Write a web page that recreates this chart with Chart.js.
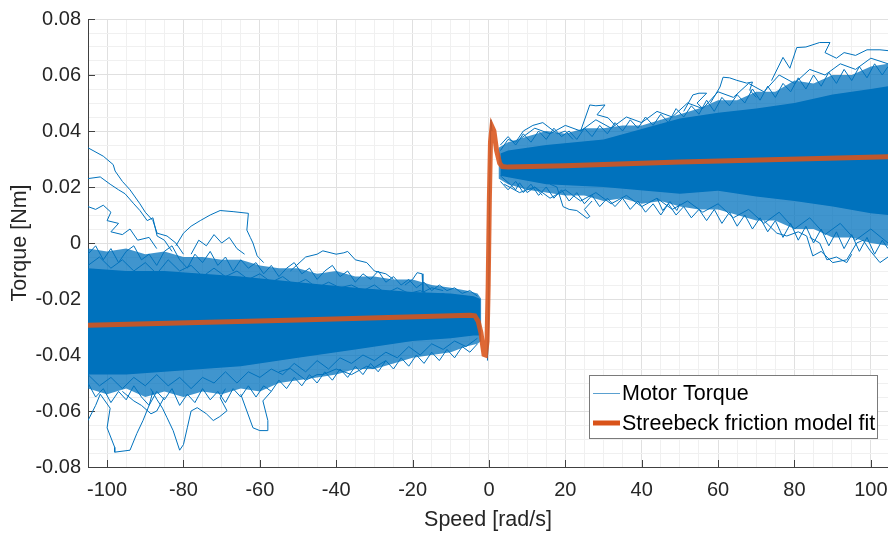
<!DOCTYPE html>
<html>
<head>
<meta charset="utf-8">
<script src="https://cdn.jsdelivr.net/npm/chart.js@4"></script>
<style>
  html, body { margin: 0; padding: 0; background: #fff; }
  #wrap { width: 888px; height: 537px; }
</style>
</head>
<body>
<div id="wrap"><canvas id="chart" width="888" height="537"></canvas></div>
<script>
// tick labels
const speedTicks = [-100, -80, -60, -40, -20, 0, 20, 40, 60, 80, 100];
const torqueTicks = [-0.08, -0.06, -0.04, -0.02, 0, 0.02, 0.04, 0.06, 0.08];

// dense part of the measured cloud, negative speeds
const negCoreSpeed = [-105, -95, -85, -75, -65, -50, -35, -20, -10, -4, -2.2];
const negCoreTop = [-0.009, -0.010, -0.010, -0.011, -0.012, -0.014, -0.016, -0.0175, -0.018, -0.019, -0.020];
const negCoreBottom = [-0.047, -0.047, -0.046, -0.045, -0.044, -0.041, -0.038, -0.035, -0.034, -0.033, -0.033];

// looser outer part of the cloud, negative speeds
const negEdgeSpeed = [-105, -100, -95, -90, -85, -80, -75, -70, -65, -60, -55, -50, -45, -40, -35, -30, -25, -20, -15, -10, -6, -3, -2];
const negEdgeTop = [-0.002, -0.003, -0.002, -0.004, -0.003, -0.005, -0.005, -0.006, -0.006, -0.008, -0.009, -0.009, -0.011, -0.010, -0.012, -0.012, -0.013, -0.013, -0.015, -0.016, -0.017, -0.018, -0.020];
const negEdgeBottom = [-0.052, -0.054, -0.052, -0.055, -0.053, -0.055, -0.053, -0.054, -0.052, -0.053, -0.050, -0.049, -0.048, -0.047, -0.045, -0.045, -0.043, -0.041, -0.040, -0.039, -0.037, -0.036, -0.035];

// dense part, positive speeds
const posCoreSpeed = [3, 5, 15, 30, 50, 60, 70, 80, 90, 100, 104.5];
const posCoreTop = [0.032, 0.033, 0.035, 0.037, 0.0445, 0.0465, 0.048, 0.050, 0.053, 0.055, 0.056];
const posCoreBottom = [0.024, 0.0235, 0.021, 0.020, 0.0176, 0.0187, 0.0166, 0.015, 0.013, 0.0106, 0.010];

// looser outer part, positive speeds
const posEdgeSpeed = [2.5, 5, 10, 15, 20, 25, 30, 35, 40, 45, 50, 55, 60, 65, 70, 75, 80, 85, 90, 95, 100, 104.5];
const posEdgeTop = [0.034, 0.036, 0.038, 0.040, 0.039, 0.041, 0.041, 0.042, 0.042, 0.044, 0.046, 0.048, 0.051, 0.051, 0.054, 0.054, 0.058, 0.057, 0.060, 0.060, 0.063, 0.064];
const posEdgeBottom = [0.023, 0.021, 0.019, 0.018, 0.017, 0.017, 0.015, 0.016, 0.014, 0.015, 0.013, 0.012, 0.012, 0.010, 0.008, 0.008, 0.005, 0.005, 0.002, 0.002, 0.0, -0.001];

// single stray runs of the motor torque, [speed, torque]
const strayNegA = [[-105, 0.034], [-101, 0.031], [-98.4, 0.028], [-97.9, 0.0257], [-96, 0.022], [-94, 0.019], [-91.4, 0.014], [-90, 0.011], [-88, 0.008], [-86.9, 0.0035], [-84.3, 0.0025], [-82, 0.0], [-80, -0.004]];
const strayNegB = [[-105, 0.023], [-101.8, 0.0236], [-99.2, 0.021], [-97, 0.019], [-95.3, 0.0176], [-93, 0.014], [-91.4, 0.0116], [-89.5, 0.008], [-88, 0.009], [-86.9, 0.0025], [-85, 0.001], [-83, -0.003]];
const strayNegC = [[-105, 0.013], [-103, 0.012], [-101, 0.0135], [-99, 0.011], [-100, 0.008], [-97, 0.007], [-99, 0.004], [-96, 0.003], [-94, 0.005], [-92, 0.001], [-89, 0.002], [-87, -0.002]];
const strayNegD = [[-82, -0.001], [-80, 0.0035], [-78, 0.006], [-75.6, 0.008], [-73, 0.010], [-70.4, 0.0116], [-67, 0.0112], [-63, 0.0106], [-63.4, 0.0046], [-62.5, 0.002], [-61.8, 0.0], [-60.7, -0.0046], [-59, -0.007]];
const strayNegE = [[-78, -0.004], [-76, 0.001], [-74, -0.001], [-72, 0.003], [-70, 0.0], [-68, 0.002], [-66, -0.002], [-64, -0.004]];
const strayNegF = [[-52, -0.010], [-48, -0.005], [-45, -0.004], [-43.5, -0.0028], [-40, -0.004], [-38, -0.0035], [-37, -0.003], [-35, -0.006], [-32, -0.007], [-30, -0.010], [-27, -0.011], [-25, -0.013]];
const strayNegG = [[-22, -0.015], [-20, -0.013], [-18.8, -0.0106], [-17.5, -0.011], [-17.3, -0.0176], [-15, -0.016], [-12, -0.017]];
const strayNegH = [[-105, -0.0634], [-103, -0.058], [-101.8, -0.054], [-99.2, -0.059], [-100, -0.066], [-98, -0.073], [-98, -0.0747], [-94, -0.074], [-92.2, -0.068], [-90.6, -0.0634], [-89, -0.058], [-88, -0.053]];
const strayNegI = [[-88.6, -0.052], [-86.9, -0.056], [-85.5, -0.059], [-84.3, -0.0624], [-82.7, -0.067], [-81, -0.074], [-80, -0.072], [-79, -0.066], [-78, -0.060], [-76.4, -0.0588], [-74, -0.061], [-72.2, -0.0634], [-70.5, -0.062], [-68.6, -0.0599], [-70.4, -0.0553], [-69, -0.052]];
const strayNegJ = [[-65, -0.054], [-63.4, -0.060], [-61.8, -0.066], [-60, -0.067], [-58.1, -0.067], [-57.9, -0.0634], [-59.2, -0.0564], [-57, -0.053]];
const strayNegK = [[-96, -0.053], [-93, -0.0564], [-91, -0.058], [-88.5, -0.061], [-87, -0.060], [-85, -0.055]];
const strayNegL = [[-55, -0.046], [-52, -0.0448], [-48, -0.049], [-45, -0.047], [-43.5, -0.047], [-40, -0.045], [-36, -0.047], [-32, -0.044], [-30.4, -0.0448], [-27, -0.042]];

// ragged runs along the edges of the cloud, negative speeds
const edgeNegTop1 = [[-105, -0.004], [-103, -0.001], [-101, -0.006], [-99, -0.002], [-97, -0.007], [-95, -0.003], [-93, -0.001], [-91, -0.006], [-89, -0.004], [-87, -0.008], [-85, -0.003], [-83, -0.001], [-81, -0.006], [-79, -0.009], [-77, -0.004], [-75, -0.007], [-73, -0.003], [-71, -0.008], [-69, -0.005], [-67, -0.010], [-65, -0.006], [-63, -0.009], [-61, -0.007], [-59, -0.011], [-57, -0.008], [-55, -0.012], [-53, -0.009], [-51, -0.007], [-49, -0.011], [-47, -0.009], [-45, -0.013], [-43, -0.010], [-41, -0.008], [-39, -0.012], [-37, -0.010], [-35, -0.014], [-33, -0.011], [-31, -0.013], [-29, -0.010], [-27, -0.014], [-25, -0.012], [-23, -0.015], [-21, -0.013], [-19, -0.016], [-17, -0.014], [-15, -0.017], [-13, -0.015], [-11, -0.017], [-9, -0.016], [-7, -0.018], [-5, -0.017], [-3, -0.019]];
const edgeNegTop2 = [[-105, -0.008], [-102, -0.005], [-99, -0.009], [-96, -0.006], [-93, -0.010], [-90, -0.007], [-87, -0.011], [-84, -0.006], [-81, -0.010], [-78, -0.008], [-75, -0.012], [-72, -0.009], [-69, -0.012], [-66, -0.010], [-63, -0.013], [-60, -0.011], [-57, -0.014], [-54, -0.012], [-51, -0.015], [-48, -0.013], [-45, -0.016], [-42, -0.014], [-39, -0.016], [-36, -0.015], [-33, -0.017], [-30, -0.015], [-27, -0.018], [-24, -0.016], [-21, -0.018], [-18, -0.017], [-15, -0.019], [-12, -0.018], [-9, -0.020], [-6, -0.019], [-3, -0.021]];
const edgeNegBottom1 = [[-105, -0.050], [-103, -0.055], [-101, -0.052], [-99, -0.057], [-97, -0.053], [-95, -0.056], [-93, -0.051], [-91, -0.055], [-89, -0.058], [-87, -0.053], [-85, -0.056], [-83, -0.052], [-81, -0.058], [-79, -0.054], [-77, -0.057], [-75, -0.052], [-73, -0.056], [-71, -0.053], [-69, -0.057], [-67, -0.052], [-65, -0.055], [-63, -0.051], [-61, -0.055], [-59, -0.051], [-57, -0.053], [-55, -0.049], [-53, -0.052], [-51, -0.048], [-49, -0.051], [-47, -0.047], [-45, -0.050], [-43, -0.046], [-41, -0.049], [-39, -0.045], [-37, -0.048], [-35, -0.044], [-33, -0.047], [-31, -0.043], [-29, -0.046], [-27, -0.042], [-25, -0.045], [-23, -0.041], [-21, -0.044], [-19, -0.040], [-17, -0.043], [-15, -0.039], [-13, -0.042], [-11, -0.038], [-9, -0.041], [-7, -0.037], [-5, -0.039], [-3, -0.036]];
const edgeNegBottom2 = [[-105, -0.047], [-102, -0.051], [-99, -0.048], [-96, -0.052], [-93, -0.048], [-90, -0.051], [-87, -0.047], [-84, -0.051], [-81, -0.048], [-78, -0.052], [-75, -0.048], [-72, -0.050], [-69, -0.046], [-66, -0.050], [-63, -0.046], [-60, -0.048], [-57, -0.045], [-54, -0.047], [-51, -0.043], [-48, -0.046], [-45, -0.042], [-42, -0.045], [-39, -0.041], [-36, -0.043], [-33, -0.040], [-30, -0.042], [-27, -0.039], [-24, -0.041], [-21, -0.037], [-18, -0.040], [-15, -0.036], [-12, -0.038], [-9, -0.035], [-6, -0.037], [-3, -0.034]];

const strayPosA = [[58, 0.050], [60.5, 0.0557], [61.3, 0.0592], [63, 0.059], [64.9, 0.0581], [67.5, 0.0571], [69, 0.0575], [68.3, 0.0546], [70, 0.052]];
const strayPosB = [[51, 0.047], [53.4, 0.0529], [55, 0.0535], [57, 0.0535], [54.5, 0.050], [56, 0.048]];
const strayPosC = [[24, 0.040], [26.4, 0.0493], [28, 0.049], [30.4, 0.0493], [28.3, 0.0458], [31.2, 0.0447], [33, 0.042]];
const strayPosD = [[16, 0.021], [17.8, 0.020], [19.4, 0.013], [21, 0.012], [23, 0.0116], [25.7, 0.0088], [26.4, 0.0095], [25, 0.012], [27, 0.015]];
const strayPosE = [[44, 0.016], [45.5, 0.0116], [47.4, 0.0148], [49.2, 0.0116], [50, 0.014]];
const strayPosF = [[74, 0.058], [77, 0.0663], [78.8, 0.0624], [80.6, 0.0698], [83, 0.070], [86.6, 0.0716], [89.3, 0.0716], [88, 0.068], [91, 0.066], [93, 0.068], [96, 0.067], [99, 0.069], [102.4, 0.069], [104.5, 0.0687]];
const strayPosG = [[72, 0.008], [75.4, 0.0035], [78, 0.0025], [81, 0.004], [83.2, 0.0025], [84.8, -0.0046], [87, -0.003], [90, -0.007], [93.7, -0.006], [96.3, 0.0], [98, 0.001], [99.7, -0.0025], [102.4, -0.007], [104.5, -0.005]];
const strayPosH = [[84, 0.002], [86.6, 0.0], [88.5, -0.006], [91, -0.005], [93.7, -0.007], [95, -0.004]];
const strayPosI = [[3, 0.033], [5, 0.037], [7, 0.036], [9, 0.040], [11.5, 0.042], [14.1, 0.043], [16, 0.041], [18, 0.039], [20, 0.040], [22, 0.037]];
const strayPosJ = [[3, 0.024], [5.5, 0.021], [7, 0.019], [8, 0.0215], [10, 0.018], [12, 0.020], [14, 0.017]];
const strayZero = [[-0.4, -0.042], [-0.1, -0.03], [0.2, 0.02], [0.5, 0.044], [0.8, 0.040]];

// ragged runs along the edges of the cloud, positive speeds
const edgePosTop1 = [[3, 0.035], [5, 0.038], [7, 0.035], [9, 0.039], [11, 0.036], [13, 0.040], [15, 0.037], [17, 0.041], [19, 0.038], [21, 0.040], [23, 0.037], [25, 0.041], [27, 0.038], [29, 0.042], [31, 0.039], [33, 0.043], [35, 0.040], [37, 0.044], [39, 0.041], [41, 0.045], [43, 0.042], [45, 0.046], [47, 0.043], [49, 0.048], [51, 0.045], [53, 0.049], [55, 0.046], [57, 0.051], [59, 0.047], [61, 0.052], [63, 0.049], [65, 0.053], [67, 0.050], [69, 0.055], [71, 0.051], [73, 0.056], [75, 0.052], [77, 0.057], [79, 0.054], [81, 0.059], [83, 0.055], [85, 0.060], [87, 0.056], [89, 0.061], [91, 0.057], [93, 0.062], [95, 0.058], [97, 0.063], [99, 0.059], [101, 0.064], [103, 0.060], [104.5, 0.063]];
const edgePosTop2 = [[8, 0.037], [12, 0.041], [16, 0.039], [20, 0.042], [24, 0.040], [28, 0.044], [32, 0.041], [36, 0.045], [40, 0.043], [44, 0.047], [48, 0.045], [52, 0.050], [56, 0.048], [60, 0.054], [64, 0.052], [68, 0.057], [72, 0.054], [76, 0.060], [80, 0.057], [84, 0.062], [88, 0.060], [92, 0.064], [96, 0.062], [100, 0.066], [104.5, 0.064]];
const edgePosBottom1 = [[3, 0.022], [5, 0.019], [7, 0.022], [9, 0.018], [11, 0.021], [13, 0.017], [15, 0.020], [17, 0.016], [19, 0.019], [21, 0.015], [23, 0.018], [25, 0.014], [27, 0.017], [29, 0.013], [31, 0.016], [33, 0.013], [35, 0.016], [37, 0.012], [39, 0.015], [41, 0.011], [43, 0.014], [45, 0.010], [47, 0.014], [49, 0.010], [51, 0.013], [53, 0.009], [55, 0.012], [57, 0.008], [59, 0.012], [61, 0.007], [63, 0.011], [65, 0.006], [67, 0.010], [69, 0.005], [71, 0.009], [73, 0.004], [75, 0.008], [77, 0.002], [79, 0.007], [81, 0.001], [83, 0.006], [85, 0.0], [87, 0.005], [89, -0.001], [91, 0.004], [93, -0.002], [95, 0.003], [97, -0.003], [99, 0.002], [101, -0.004], [103, 0.001], [104.5, -0.002]];
const edgePosBottom2 = [[4, 0.021], [8, 0.018], [12, 0.020], [16, 0.016], [20, 0.019], [24, 0.015], [28, 0.018], [32, 0.014], [36, 0.017], [40, 0.013], [44, 0.016], [48, 0.012], [52, 0.015], [56, 0.011], [60, 0.014], [64, 0.009], [68, 0.012], [72, 0.007], [76, 0.011], [80, 0.005], [84, 0.009], [88, 0.003], [92, 0.007], [96, 0.001], [100, 0.005], [104.5, 0.0]];

const strayRuns = [strayNegA, strayNegB, strayNegC, strayNegD, strayNegE, strayNegF, strayNegG, strayNegH, strayNegI,
  strayNegJ, strayNegK, strayNegL, edgeNegTop1, edgeNegTop2, edgeNegBottom1, edgeNegBottom2,
  strayPosA, strayPosB, strayPosC, strayPosD, strayPosE, strayPosF, strayPosG, strayPosH, strayPosI, strayPosJ,
  strayZero, edgePosTop1, edgePosTop2, edgePosBottom1, edgePosBottom2];

// Stribeck fit
const fitSpeed = [-105, -50, -5, -3.7, -2.8, -2.1, -1.6, -1.3, -0.9, -0.5, -0.2, 0.1, 0.4, 0.8, 1.3, 2, 2.8, 3.5, 5, 20, 50, 105];
const fitTorque = [-0.0294, -0.0275, -0.0258, -0.026, -0.028, -0.032, -0.037, -0.0398, -0.040, -0.035, -0.015, 0.015, 0.036, 0.0415, 0.040, 0.033, 0.0285, 0.0273, 0.0271, 0.0276, 0.0289, 0.0308];

const BLUE = "#0072BD";
const ORANGE = "rgba(217,83,25,0.88)";
const FONT = "'Liberation Sans', Arial, Helvetica, sans-serif";

const pts = (xs, ys) => xs.map((x, i) => ({x: x, y: ys[i]}));
const pairs = (run) => run.map((p) => ({x: p[0], y: p[1]}));

function band(xs, top, bottom, color, order) {
    return [
        {label: "Motor Torque", data: pts(xs, top), borderWidth: 0, borderColor: color, backgroundColor: color, fill: false, order: order},
        {label: "Motor Torque", data: pts(xs, bottom), borderWidth: 0, borderColor: color, backgroundColor: color, fill: "-1", order: order},
    ];
}

const datasets = [
    {label: "Streebeck friction model fit", data: pts(fitSpeed, fitTorque), borderColor: ORANGE, borderWidth: 5, order: 0},
    ...band(negEdgeSpeed, negEdgeTop, negEdgeBottom, "rgba(0,114,189,0.75)", 3),
    ...band(posEdgeSpeed, posEdgeTop, posEdgeBottom, "rgba(0,114,189,0.75)", 3),
    ...band(negCoreSpeed, negCoreTop, negCoreBottom, BLUE, 2),
    ...band(posCoreSpeed, posCoreTop, posCoreBottom, BLUE, 2),
    ...strayRuns.map((run) => ({label: "Motor Torque", data: pairs(run), borderColor: BLUE, borderWidth: 1, order: 1})),
];

function isMultiple(v, step) {
    const r = Math.abs(v / step - Math.round(v / step));
    return r < 1e-6;
}

// inner tick marks and the legend box
const decorations = {
    id: "decorations",
    beforeDatasetsDraw(chart) {
        const {ctx, chartArea, scales} = chart;
        ctx.save();
        ctx.strokeStyle = "#404040";
        ctx.lineWidth = 1;
        ctx.beginPath();
        speedTicks.forEach((v) => {
            const x = Math.round(scales.x.getPixelForValue(v)) + 0.5;
            ctx.moveTo(x, chartArea.bottom);
            ctx.lineTo(x, chartArea.bottom - 7);
        });
        torqueTicks.forEach((v) => {
            const y = Math.round(scales.y.getPixelForValue(v)) + 0.5;
            ctx.moveTo(chartArea.left, y);
            ctx.lineTo(chartArea.left + 7, y);
        });
        ctx.stroke();
        ctx.restore();
    },
    afterDraw(chart) {
        const ctx = chart.ctx;
        ctx.save();
        ctx.fillStyle = "#ffffff";
        ctx.fillRect(589.5, 375.5, 288, 63);
        ctx.strokeStyle = "#7a7a7a";
        ctx.lineWidth = 1;
        ctx.strokeRect(589.5, 375.5, 288, 63);

        ctx.strokeStyle = "#5aa0d0";
        ctx.lineWidth = 1;
        ctx.beginPath();
        ctx.moveTo(593, 393.5);
        ctx.lineTo(620, 393.5);
        ctx.stroke();

        ctx.strokeStyle = "#D95319";
        ctx.lineWidth = 5;
        ctx.beginPath();
        ctx.moveTo(593, 423);
        ctx.lineTo(620, 423);
        ctx.stroke();

        ctx.fillStyle = "#000000";
        ctx.font = "21.5px " + FONT;
        ctx.textBaseline = "middle";
        ctx.fillText("Motor Torque", 622, 394);
        ctx.fillText("Streebeck friction model fit", 622, 424);
        ctx.restore();
    },
};

new Chart(document.getElementById("chart"), {
    type: "scatter",
    data: {datasets: datasets},
    options: {
        responsive: false,
        animation: false,
        devicePixelRatio: 1,
        showLine: true,
        elements: {point: {radius: 0, hoverRadius: 0}, line: {tension: 0}},
        layout: {padding: {top: 13, right: 0, bottom: 0, left: 0}},
        plugins: {legend: {display: false}, tooltip: {enabled: false}},
        scales: {
            x: {
                type: "linear",
                min: -105,
                max: 104.5,
                afterFit: (scale) => {
                    scale.height = 70;
                    scale.paddingLeft = 0;
                    scale.paddingRight = 0;
                },
                border: {display: true, color: "#404040", width: 1},
                grid: {
                    drawTicks: false,
                    color: (c) => isMultiple(c.tick.value, 20) ? "#e0e0e0" : (isMultiple(c.tick.value, 5) ? "#f0f0f0" : "rgba(0,0,0,0)"),
                },
                ticks: {
                    stepSize: 5,
                    includeBounds: false,
                    autoSkip: false,
                    maxRotation: 0,
                    padding: 11,
                    color: "#262626",
                    font: {family: FONT, size: 20},
                    callback: (v) => speedTicks.some((t) => Math.abs(t - v) < 1e-6) ? String(Math.round(v)) : "",
                },
                title: {display: true, text: "Speed [rad/s]", color: "#262626", font: {family: FONT, size: 21.5}, padding: {top: 0, bottom: 4}},
            },
            y: {
                type: "linear",
                min: -0.08,
                max: 0.08,
                afterFit: (scale) => { scale.width = 88; },
                border: {display: true, color: "#404040", width: 1},
                grid: {
                    drawTicks: false,
                    color: (c) => isMultiple(c.tick.value, 0.02) ? "#e0e0e0" : (isMultiple(c.tick.value, 0.005) ? "#f0f0f0" : "rgba(0,0,0,0)"),
                },
                ticks: {
                    stepSize: 0.005,
                    autoSkip: false,
                    padding: 7,
                    color: "#262626",
                    font: {family: FONT, size: 20},
                    callback: (v) => {
                        const t = torqueTicks.find((k) => Math.abs(k - v) < 1e-9);
                        if (t === undefined) return "";
                        return t === 0 ? "0" : t.toFixed(2);
                    },
                },
                title: {display: true, text: "Torque [Nm]", color: "#262626", font: {family: FONT, size: 21.5}, padding: {top: 7, bottom: 0}},
            },
        },
    },
    plugins: [decorations],
});
</script>
</body>
</html>
